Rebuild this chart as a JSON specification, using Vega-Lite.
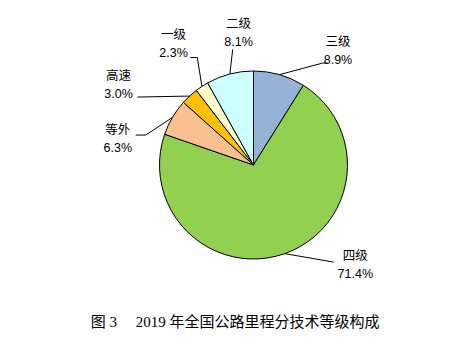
{
  "$schema": "https://vega.github.io/schema/vega-lite/v6.json",
  "width": 462,
  "height": 305,
  "padding": 0,
  "background": "white",
  "config": {"view": {"stroke": null}},
  "title": {
    "text": "图 3　 2019 年全国公路里程分技术等级构成",
    "orient": "bottom",
    "anchor": "middle",
    "offset": 10,
    "dx": 4,
    "fontSize": 15,
    "font": "Liberation Serif, Noto Sans CJK SC",
    "fontWeight": "normal",
    "color": "#000000"
  },
  "data": {
    "values": [
      {"cat": "三级", "pct": 8.9, "rank": 1},
      {"cat": "四级", "pct": 71.4, "rank": 2},
      {"cat": "等外", "pct": 6.3, "rank": 3},
      {"cat": "高速", "pct": 3.0, "rank": 4},
      {"cat": "一级", "pct": 2.3, "rank": 5},
      {"cat": "二级", "pct": 8.1, "rank": 6}
    ]
  },
  "transform": [
    {"window": [{"op": "sum", "field": "pct", "as": "cum"}], "sort": [{"field": "rank"}], "frame": [null, 0]},
    {"calculate": "datum.cum - datum.pct", "as": "start"},
    {"calculate": "(datum.start + datum.cum) / 100 * PI", "as": "mid"},
    {"calculate": "format(datum.pct, '.1f') + '%'", "as": "ptxt"},
    {"calculate": "datum.cat === '三级' ? 20.5 : datum.cat === '四级' ? -26 : datum.cat === '等外' ? -19.5 : datum.cat === '高速' ? -16.4 : datum.cat === '一级' ? -0.2 : 8.1", "as": "la"},
    {"calculate": "datum.cat === '三级' ? 1.51 : datum.cat === '四级' ? 1.52 : datum.cat === '等外' ? 1.47 : datum.cat === '高速' ? 1.67 : datum.cat === '一级' ? 1.54 : 1.41", "as": "lr"},
    {"calculate": "datum.cat === '三级' ? 18.1 : datum.cat === '四级' ? -20.1 : datum.cat === '等外' ? -14.9 : datum.cat === '高速' ? -16.8 : datum.cat === '一级' ? 5.7 : 4.4", "as": "ea"},
    {"calculate": "datum.cat === '三级' ? 1.31 : datum.cat === '四级' ? 1.34 : datum.cat === '等外' ? 1.19 : datum.cat === '高速' ? 1.43 : datum.cat === '一级' ? 1.29 : 1.25", "as": "er"},
    {"calculate": "datum.cat === '三级' ? 0.053 : datum.cat === '等外' ? -0.106 : datum.cat === '一级' ? -0.074 : 0", "as": "tail"},
    {"calculate": "datum.lr * sin(datum.mid + datum.la * PI / 180)", "as": "lx"},
    {"calculate": "datum.lr * cos(datum.mid + datum.la * PI / 180)", "as": "ly"},
    {"calculate": "datum.er * sin(datum.mid + datum.ea * PI / 180)", "as": "ex"},
    {"calculate": "datum.er * cos(datum.mid + datum.ea * PI / 180)", "as": "ey"},
    {"calculate": "sin(datum.mid)", "as": "sx"},
    {"calculate": "cos(datum.mid)", "as": "sy"},
    {"calculate": "datum.ex + datum.tail", "as": "tx"}
  ],
  "layer": [
    {
      "mark": {"type": "arc", "outerRadius": 94, "stroke": "#000000", "strokeWidth": 1},
      "encoding": {
        "x": {"datum": 0, "type": "quantitative", "scale": {"domain": [-2.6968, 2.2181], "nice": false, "zero": false}, "axis": null},
        "y": {"datum": 0, "type": "quantitative", "scale": {"domain": [-1.4894, 1.7553], "nice": false, "zero": false}, "axis": null},
        "theta": {"field": "start", "type": "quantitative", "stack": null, "scale": {"domain": [0, 100], "range": [0, 6.283185307179586]}},
        "theta2": {"field": "cum"},
        "color": {
          "field": "cat",
          "type": "nominal",
          "scale": {
            "domain": ["三级", "四级", "等外", "高速", "一级", "二级"],
            "range": ["#95B3D7", "#92D050", "#FAC090", "#FFC000", "#FFFFCC", "#CCFFFF"]
          },
          "legend": null
        }
      }
    },
    {
      "mark": {"type": "rule", "stroke": "#000000", "strokeWidth": 1},
      "encoding": {
        "x": {"field": "sx", "type": "quantitative", "scale": {"domain": [-2.6968, 2.2181], "nice": false, "zero": false}, "axis": null},
        "y": {"field": "sy", "type": "quantitative", "scale": {"domain": [-1.4894, 1.7553], "nice": false, "zero": false}, "axis": null},
        "x2": {"field": "ex"},
        "y2": {"field": "ey"}
      }
    },
    {
      "mark": {"type": "rule", "stroke": "#000000", "strokeWidth": 1},
      "encoding": {
        "x": {"field": "ex", "type": "quantitative", "scale": {"domain": [-2.6968, 2.2181], "nice": false, "zero": false}, "axis": null},
        "y": {"field": "ey", "type": "quantitative", "scale": {"domain": [-1.4894, 1.7553], "nice": false, "zero": false}, "axis": null},
        "x2": {"field": "tx"},
        "y2": {"field": "ey"}
      }
    },
    {
      "mark": {"type": "text", "dy": -9, "align": "center", "baseline": "middle", "fontSize": 12.5, "font": "Liberation Sans, Noto Sans CJK SC", "color": "#000000"},
      "encoding": {
        "x": {"field": "lx", "type": "quantitative", "scale": {"domain": [-2.6968, 2.2181], "nice": false, "zero": false}, "axis": null},
        "y": {"field": "ly", "type": "quantitative", "scale": {"domain": [-1.4894, 1.7553], "nice": false, "zero": false}, "axis": null},
        "text": {"field": "cat"}
      }
    },
    {
      "mark": {"type": "text", "dy": 9, "align": "center", "baseline": "middle", "fontSize": 12.5, "font": "Liberation Sans, Noto Sans CJK SC", "color": "#000000"},
      "encoding": {
        "x": {"field": "lx", "type": "quantitative", "scale": {"domain": [-2.6968, 2.2181], "nice": false, "zero": false}, "axis": null},
        "y": {"field": "ly", "type": "quantitative", "scale": {"domain": [-1.4894, 1.7553], "nice": false, "zero": false}, "axis": null},
        "text": {"field": "ptxt"}
      }
    }
  ]
}
